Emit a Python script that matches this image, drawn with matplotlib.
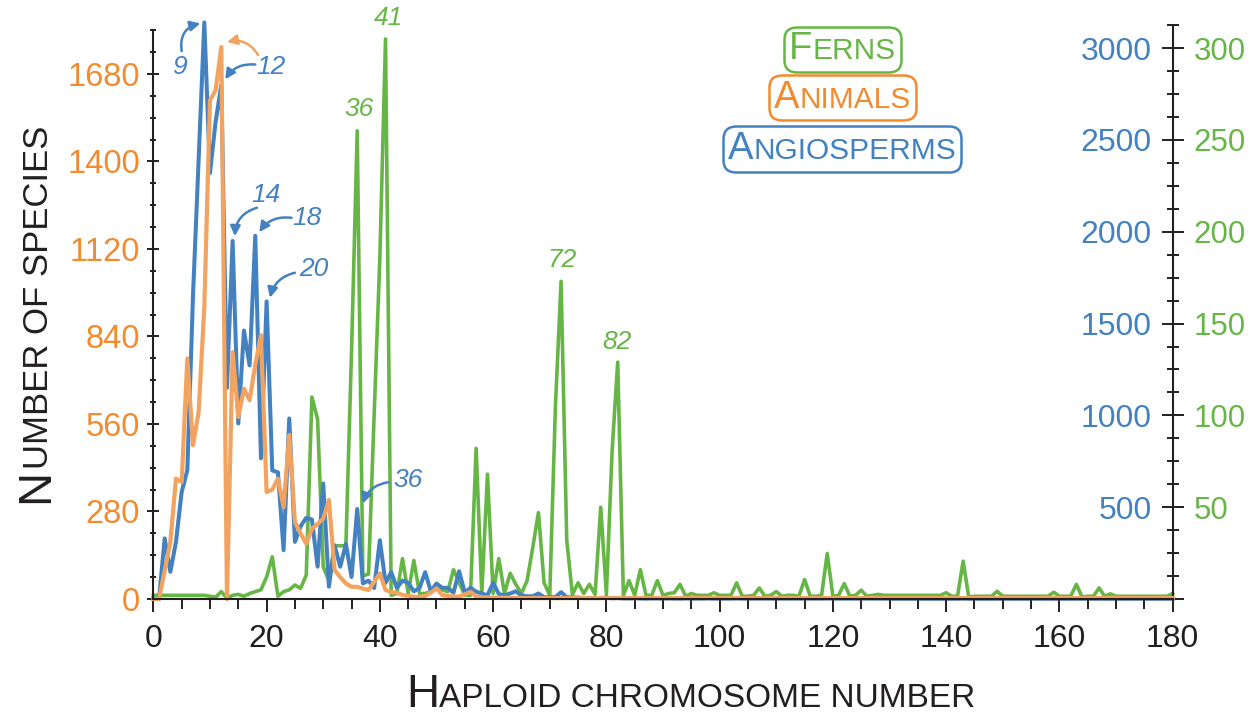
import numpy as np
import matplotlib
matplotlib.use('Agg')
import matplotlib.pyplot as plt
from matplotlib.ticker import MultipleLocator, FuncFormatter
from matplotlib.offsetbox import TextArea, HPacker, AnnotationBbox

plt.rcParams['font.family'] = ['Liberation Sans', 'DejaVu Sans']

# haploid chromosome number n = 0..180
chrom_n = np.arange(0, 181)

angiosperms = [
    0, 0, 330, 148, 311, 583, 701, 1650, 2400, 3140,
    2320, 2600, 2800, 1150, 1950, 956, 1462, 1272, 1978, 766,
    1621, 700, 690, 266, 983, 311, 396, 442, 433, 176,
    629, 67, 293, 176, 300, 120, 490, 85, 100, 60,
    320, 88, 146, 61, 100, 88, 42, 60, 146, 42,
    84, 61, 61, 34, 151, 34, 61, 40, 30, 20,
    88, 27, 20, 30, 42, 20, 15, 15, 30, 10,
    10, 10, 37, 10, 8, 8, 5, 5, 5, 5,
    8, 4, 5, 3, 3, 4, 3, 2, 3, 3,
    2, 3, 2, 2, 3, 2, 2, 2, 3, 2,
    2, 2, 2, 3, 2, 2, 2, 2, 2, 2,
    2, 2, 2, 2, 2, 2, 2, 2, 2, 3,
    2, 2, 2, 2, 2, 2, 2, 2, 2, 2,
    1, 1, 1, 1, 1, 1, 1, 1, 1, 1,
    1, 1, 1, 2, 1, 1, 1, 1, 1, 1,
    1, 1, 1, 1, 1, 1, 1, 1, 1, 1,
    1, 1, 1, 1, 1, 1, 1, 1, 1, 1,
    1, 1, 1, 1, 1, 1, 1, 1, 1, 1, 1,
]

animals = [
    0, 0, 90, 182, 385, 374, 770, 492, 598, 934,
    1596, 1628, 1766, 0, 790, 582, 673, 636, 750, 844,
    342, 350, 385, 294, 525, 246, 210, 177, 225, 240,
    257, 317, 93, 70, 50, 39, 39, 33, 29, 55,
    82, 29, 22, 20, 13, 10, 7, 7, 10, 20,
    34, 13, 10, 8, 8, 15, 23, 8, 5, 5,
    4, 4, 4, 4, 4, 3, 3, 3, 3, 3,
    3, 3, 3, 3, 3, 3, 3, 3, 3, 3,
    3, 3, 3, 3, 3, 3, 3, 3, 3, 3,
    3, 3, 3, 3, 3, 3, 3, 3, 3, 3,
    3, 3, 3, 3, 3, 3, 3, 3, 3, 3,
    3, 3, 3, 3, 3, 3, 3, 3, 3, 3,
    3, 3, 3, 3, 3, 3, 3, 3, 3, 3,
    3, 3, 3, 3, 3, 3, 3, 3, 3, 3,
    3, 3, 3, 3, 3, 3, 3, 3, 3, 3,
    3, 3, 3, 3, 3, 3, 3, 3, 3, 3,
    3, 3, 3, 3, 3, 3, 3, 3, 3, 3,
    3, 3, 3, 3, 3, 3, 3, 3, 3, 3, 3,
]

ferns = [
    2, 2, 2, 2, 2, 2, 2, 2, 2, 2,
    1.5, 1, 4, 0.5, 2, 2.5, 1.5, 3, 4, 5,
    12, 23, 1.5, 4, 5, 7.6, 5.8, 13, 110, 98,
    17.5, 10, 29, 29, 29, 135, 255, 12.6, 13.6, 101,
    186, 305, 2, 3, 22, 3, 21, 3, 3, 4,
    7, 5, 4, 16, 9, 2, 2, 82, 3, 68,
    3, 22, 3, 14, 8, 3, 10, 28, 47, 8.8,
    2, 105, 173, 32, 2.4, 8.8, 3, 8, 2.5, 50,
    2.5, 80, 129, 2, 10, 2, 16, 2, 2, 10,
    2, 3, 3.4, 8, 1.5, 3, 2, 2, 2, 3.4,
    2, 2, 2, 8.8, 1.5, 1.5, 2, 6, 1.5, 2,
    4, 1.5, 2, 2, 1.5, 10.6, 1.5, 1.5, 2, 24.8,
    1.5, 2, 8.4, 1.5, 2, 4.8, 1.5, 2, 2.5, 2,
    2, 2, 2, 2, 2, 2, 2, 2, 2, 2,
    3.4, 1.5, 1.5, 20.6, 1, 1.5, 1.5, 1.5, 1.5, 4.2,
    1.5, 1.5, 1.5, 1.5, 1.5, 1.5, 1.5, 1.5, 1.5, 3.7,
    1.5, 1.5, 1.5, 8, 1, 1.5, 1.5, 6, 1.5, 2.8,
    1.5, 1.5, 1.5, 1.5, 1.5, 1.5, 1.5, 1.5, 1.5, 1.5, 3,
]

# peak labels: (text, text position, arrow tail, arrow head, curvature)
angio_notes = [
    ('9', (4.6, 2900), (5.0, 2984), (8.3, 3135), -0.45),
    ('12', (20.7, 2900), (18.0, 2911), (12.7, 2830), 0.3),
    ('14', (19.9, 2199), (18.3, 2131), (14.4, 1976), 0.35),
    ('18', (27.1, 2076), (24.4, 2076), (18.7, 1998), 0.3),
    ('20', (28.3, 1798), (25.0, 1777), (20.6, 1641), 0.3),
    ('36', (45.0, 647), (41.5, 636), (37.0, 520), 0.3),
]
animal_arrow = ((18.5, 1741), (13.0, 1782), 0.35)
fern_notes = [('36', (36.4, 267)), ('41', (41.5, 316.6)),
              ('72', (72.2, 184.5)), ('82', (81.8, 139.7))]

BLUE = '#4381c1'
ORANGE = '#f2a360'
ORANGE_TXT = '#f08b2f'
GREEN = '#66b646'
INK = '#231f20'

fig = plt.figure(figsize=(12.6, 7.19), dpi=100)
ax = fig.add_axes([0.1217, 0.1669, 0.809, 0.808])
ax2 = ax.twinx()
ax3 = ax.twinx()

for a, z in ((ax3, 1), (ax2, 2), (ax, 3)):
    a.set_zorder(z)
    a.patch.set_visible(False)
    for s in a.spines.values():
        s.set_visible(False)

ax3.plot(chrom_n, ferns, color=GREEN, lw=2.6, clip_on=False)
ax2.plot(chrom_n, angiosperms, color=BLUE, lw=2.9, clip_on=False)
ax.plot(chrom_n, animals, color=ORANGE, lw=3.0, clip_on=False)

ax.set_xlim(0, 180)
ax.set_ylim(0, 1859)
ax2.set_ylim(0, 3164)
ax3.set_ylim(0, 316.4)

# spines
ax.spines['left'].set_visible(True)
ax.spines['left'].set_bounds(0, 1820)
ax.spines['bottom'].set_visible(True)
ax3.spines['right'].set_visible(True)
ax3.spines['right'].set_bounds(0, 312.5)
for s in (ax.spines['left'], ax.spines['bottom'], ax3.spines['right']):
    s.set_linewidth(1.5)
    s.set_color(INK)

# x axis
ax.xaxis.set_major_locator(MultipleLocator(20))
ax.xaxis.set_minor_locator(MultipleLocator(5))
ax.tick_params(axis='x', which='major', direction='out', length=9, width=1.4,
               color=INK, labelsize=23, labelcolor=INK, pad=9)
ax.tick_params(axis='x', which='minor', direction='out', length=7, width=1.4, color=INK)

# left axis (animals)
ax.yaxis.set_major_locator(MultipleLocator(280))
ax.yaxis.set_minor_locator(MultipleLocator(70))
ax.tick_params(axis='y', which='major', direction='inout', length=9, width=1.4,
               color=INK, labelsize=23.5, labelcolor=ORANGE_TXT, pad=5)
ax.tick_params(axis='y', which='minor', direction='inout', length=5, width=1.4, color=INK)

hide_zero = FuncFormatter(lambda v, p: '' if v == 0 else f'{v:g}')

# angiosperm scale, labels just inside the right spine
ax2.spines['left'].set_position(('axes', 1.0))
ax2.yaxis.tick_left()
ax2.yaxis.set_major_locator(MultipleLocator(500))
ax2.yaxis.set_major_formatter(hide_zero)
ax2.tick_params(axis='y', which='both', length=0, pad=15, labelsize=23,
                labelcolor=BLUE)

# fern scale, outside the right spine
ax3.yaxis.set_major_locator(MultipleLocator(50))
ax3.yaxis.set_minor_locator(MultipleLocator(12.5))
ax3.yaxis.set_major_formatter(hide_zero)
ax3.tick_params(axis='y', which='major', direction='inout', length=16, width=1.4,
                color=INK, labelsize=22.5, labelcolor=GREEN, pad=7)
ax3.tick_params(axis='y', which='minor', direction='inout', length=8, width=1.4, color=INK)

# peak annotations
note_font = dict(size=19, style='italic', ha='center', va='center')
for txt, pos, tail, head, rad in angio_notes:
    ax2.text(pos[0], pos[1], txt, color=BLUE, **note_font)
    ax2.annotate('', xy=head, xytext=tail, annotation_clip=False,
                 arrowprops=dict(arrowstyle='-|>', color=BLUE, lw=1.8,
                                 mutation_scale=15, shrinkA=0, shrinkB=0,
                                 connectionstyle=f'arc3,rad={rad}'))
tail, head, rad = animal_arrow
ax.annotate('', xy=head, xytext=tail, annotation_clip=False,
            arrowprops=dict(arrowstyle='-|>', color=ORANGE, lw=1.8,
                            mutation_scale=15, shrinkA=0, shrinkB=0,
                            connectionstyle=f'arc3,rad={rad}'))
for txt, pos in fern_notes:
    ax3.text(pos[0], pos[1], txt, color=GREEN, **note_font)


def small_caps(word, color, big, small):
    return HPacker(children=[TextArea(word[0], textprops=dict(size=big, color=color)),
                             TextArea(word[1:].upper(), textprops=dict(size=small, color=color))],
                   align='baseline', pad=0, sep=0)


# legend boxes
for word, color, ypos in (('Ferns', GREEN, 0.946), ('Animals', ORANGE_TXT, 0.863),
                          ('Angiosperms', BLUE, 0.774)):
    ab = AnnotationBbox(small_caps(word, color, 27.5, 21.5), (0.676, ypos),
                        xycoords='axes fraction', frameon=True, fontsize=10,
                        bboxprops=dict(boxstyle='round,pad=0.35,rounding_size=0.9',
                                       ec=color, lw=1.8, fc='white'))
    ax.add_artist(ab)

# axis titles in small caps
xl = AnnotationBbox(small_caps('Haploid chromosome number', INK, 33, 24),
                    (0.548, 0.003), xycoords='figure fraction', frameon=False,
                    box_alignment=(0.5, 0))
ax.add_artist(xl)

t1 = fig.text(48 / 1260, (719 - 503) / 719, 'N', rotation=90, rotation_mode='anchor',
              ha='left', va='baseline', size=34, color=INK)
ax.annotate('UMBER OF SPECIES', xy=(1, 1), xycoords=t1, xytext=(-2, 0),
            textcoords='offset points', rotation=90, ha='right', va='bottom',
            size=25, color=INK, annotation_clip=False)

fig.savefig('out.png', dpi=100, facecolor='white')
